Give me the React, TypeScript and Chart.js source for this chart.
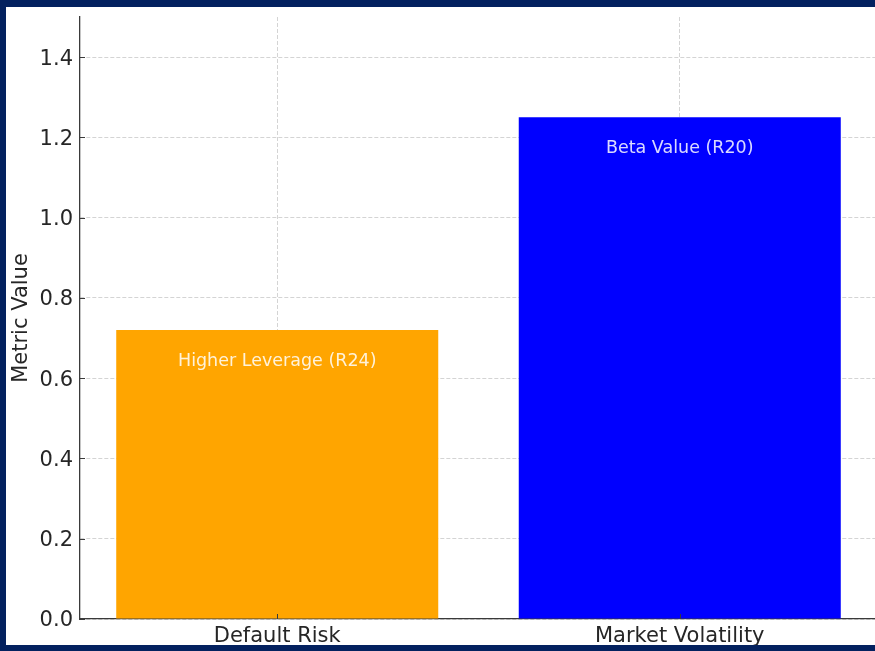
import React, { useEffect, useRef } from "react";
import { Chart, registerables } from "chart.js";

Chart.register(...registerables);

const CATEGORIES = ["Default Risk", "Market Volatility"];
const VALUES = [0.72, 1.25];
const BAR_LABELS = ["Higher Leverage (R24)", "Beta Value (R20)"];
const BAR_COLORS = ["#FFA500", "#0000FF"];
const Y_TICKS = [0, 0.2, 0.4, 0.6, 0.8, 1.0, 1.2, 1.4];
const Y_TITLE = "Metric Value";

const FONT = "DejaVu Sans";
const TEXT = "#262626";
const SPINE = "#3a3a3a";
const GRID = "#d4d4d4";

const innerTicks = {
  id: "innerTicks",
  afterDraw(chart: any) {
    const { ctx, chartArea, scales } = chart;
    ctx.save();
    ctx.strokeStyle = SPINE;
    ctx.lineWidth = 1;
    scales.y.ticks.forEach((t: any) => {
      const y = Math.round(scales.y.getPixelForValue(t.value)) + 0.5;
      ctx.beginPath();
      ctx.moveTo(chartArea.left, y);
      ctx.lineTo(chartArea.left + 5, y);
      ctx.stroke();
    });
    scales.x.ticks.forEach((t: any) => {
      const x = Math.round(scales.x.getPixelForValue(t.value)) + 0.5;
      ctx.beginPath();
      ctx.moveTo(x, chartArea.bottom);
      ctx.lineTo(x, chartArea.bottom - 5);
      ctx.stroke();
    });
    ctx.restore();
  },
};

const barText = {
  id: "barText",
  afterDatasetsDraw(chart: any) {
    const { ctx } = chart;
    const meta = chart.getDatasetMeta(0);
    ctx.save();
    ctx.font = `17.5px "${FONT}"`;
    ctx.fillStyle = "rgba(255,255,255,0.85)";
    ctx.textAlign = "center";
    ctx.textBaseline = "middle";
    meta.data.forEach((bar: any, i: number) => {
      ctx.fillText(BAR_LABELS[i], bar.x, bar.y + 31);
    });
    ctx.restore();
  },
};

export default function App() {
  const ref = useRef<HTMLCanvasElement>(null);

  useEffect(() => {
    const chart = new Chart(ref.current!, {
      type: "bar",
      data: {
        datasets: [
          {
            data: VALUES.map((v, i) => ({ x: i, y: v })),
            backgroundColor: BAR_COLORS,
            borderWidth: 0,
            categoryPercentage: 1,
            barPercentage: 0.8,
          } as any,
        ],
      },
      options: {
        responsive: false,
        animation: false,
        layout: { padding: { top: 10, left: 0, right: 0, bottom: 0 } },
        plugins: { legend: { display: false }, tooltip: { enabled: false } },
        scales: {
          x: {
            type: "linear",
            min: -0.49,
            max: 1.49,
            offset: false,
            z: 1,
            afterBuildTicks: (s: any) => {
              s.ticks = CATEGORIES.map((_, i) => ({ value: i }));
            },
            afterFit: (s: any) => {
              s.height = 26;
              s.paddingLeft = 0;
              s.paddingRight = 0;
            },
            ticks: {
              autoSkip: false,
              maxRotation: 0,
              padding: 5,
              color: TEXT,
              font: { family: FONT, size: 21 },
              callback: (v: any) => CATEGORIES[v as number],
            },
            grid: { color: GRID, lineWidth: 1, drawTicks: false, offset: false },
            border: { color: SPINE, width: 1.3, dash: [4, 2] },
          },
          y: {
            type: "linear",
            min: 0,
            max: 1.5,
            z: 1,
            afterBuildTicks: (s: any) => {
              s.ticks = Y_TICKS.map((v) => ({ value: v }));
            },
            afterFit: (s: any) => {
              s.width = 74;
              s.paddingTop = 0;
              s.paddingBottom = 0;
            },
            ticks: {
              padding: 7,
              labelOffset: 2,
              color: TEXT,
              font: { family: FONT, size: 21 },
              callback: (v: any) => Number(v).toFixed(1),
            },
            grid: { color: GRID, lineWidth: 1, drawTicks: false },
            border: { color: SPINE, width: 1.3, dash: [4, 2] },
            title: {
              display: true,
              text: Y_TITLE,
              color: TEXT,
              font: { family: FONT, size: 21 },
              padding: { top: 3, bottom: 0 },
            },
          },
        },
      },
      plugins: [barText, innerTicks],
    } as any);
    return () => chart.destroy();
  }, []);

  return (
    <div
      style={{
        position: "absolute",
        left: 0,
        top: 0,
        width: 875,
        height: 651,
        overflow: "hidden",
        boxSizing: "border-box",
        background: "#ffffff",
        borderTop: "7px solid #03215f",
        borderLeft: "6px solid #03215f",
        borderBottom: "6px solid #03215f",
      }}
    >
      <canvas ref={ref} width={871} height={638} style={{ display: "block" }} />
    </div>
  );
}
